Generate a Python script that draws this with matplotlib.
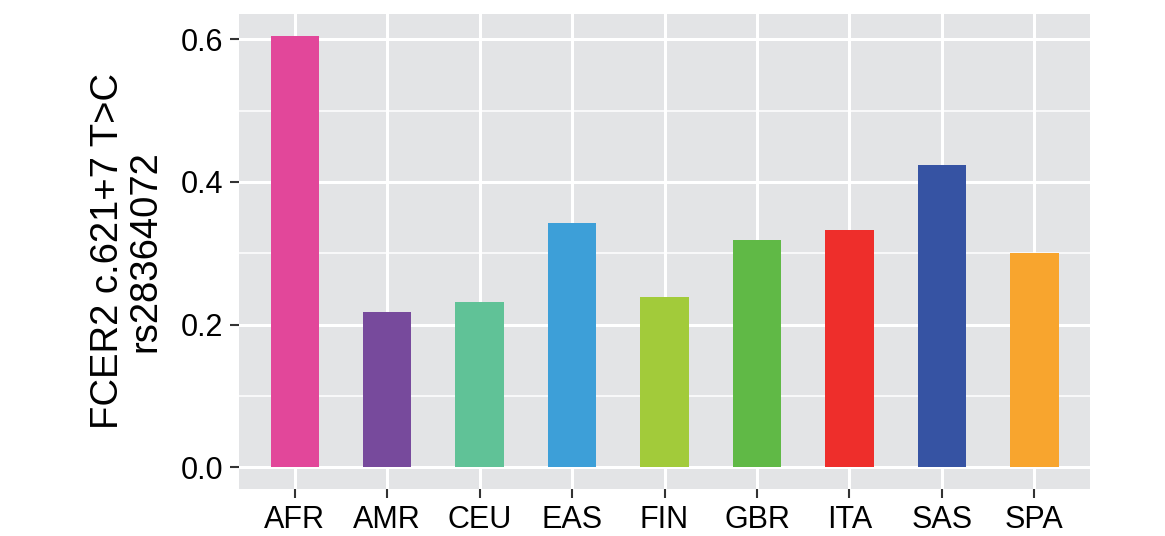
import matplotlib
matplotlib.use("Agg")
import matplotlib.pyplot as plt
from matplotlib.ticker import MultipleLocator

categories = ["AFR", "AMR", "CEU", "EAS", "FIN", "GBR", "ITA", "SAS", "SPA"]
values = [0.605, 0.218, 0.232, 0.343, 0.239, 0.319, 0.333, 0.424, 0.300]
colors = ["#E2479A", "#774A9C", "#60C297", "#3D9FD8", "#A2CB3A",
          "#60B946", "#EE2E2B", "#3653A3", "#F8A52E"]
yticks = [0.0, 0.2, 0.4, 0.6]
ytick_labels = ["0.0", "0.2", "0.4", "0.6"]
ylabel = "FCER2 c.621+7 T>C\nrs28364072"

plt.rcParams["font.family"] = ["Liberation Sans", "DejaVu Sans"]

fig = plt.figure(figsize=(11.65, 5.36), dpi=100)
ax = fig.add_axes([0.2052, 0.0877, 0.7304, 0.8862])
ax.set_facecolor("#E3E4E6")

x = list(range(len(categories)))
ax.bar(x, values, width=0.52, color=colors, zorder=3)

ax.set_xlim(-0.6, len(categories) - 0.4)
ymax = max(values)
ax.set_ylim(-0.05 * ymax, ymax * 1.05)

ax.set_yticks(yticks)
ax.set_yticklabels(ytick_labels)
ax.yaxis.set_minor_locator(MultipleLocator(0.1))
ax.set_xticks(x)
ax.set_xticklabels(categories)

ax.grid(which="major", color="white", linewidth=2.2, zorder=0)
ax.grid(which="minor", axis="y", color="white", linewidth=1.1, zorder=0)
ax.set_axisbelow(True)

for s in ax.spines.values():
    s.set_visible(False)

ax.tick_params(axis="both", which="major", labelsize=22, colors="#333333",
               length=6.5, width=1.5, labelcolor="black", pad=5)
ax.tick_params(axis="y", which="minor", length=0)

ax.set_ylabel(ylabel, fontsize=27.5, labelpad=12, linespacing=1.05)

fig.savefig("out.png", dpi=100)
